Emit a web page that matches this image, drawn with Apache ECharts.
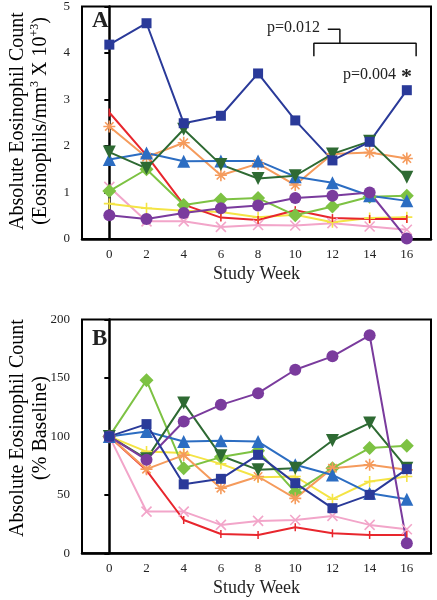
<!DOCTYPE html>
<html><head><meta charset="utf-8">
<script src="https://cdn.jsdelivr.net/npm/echarts@6/dist/echarts.min.js"></script>
<style>html,body{margin:0;padding:0;background:#fff}#c{width:437px;height:600px}</style>
</head><body><div id="c"></div>
<script>
const weeks = [0, 2, 4, 6, 8, 10, 12, 14, 16];
const weekTicks = [0, 2, 4, 6, 8, 10, 12, 14, 16];

// Panel A: absolute counts (x10^3 / mm^3)
const absBlueSquare  = [4.18, 4.64, 2.49, 2.65, 3.56, 2.55, 1.69, 2.09, 3.20];
const absRed         = [2.72, 1.80, 0.74, 0.46, 0.41, 0.62, 0.45, 0.43, 0.43];
const absOrange      = [2.42, 1.76, 2.07, 1.37, 1.62, 1.16, 1.83, 1.86, 1.73];
const absDarkGreen   = [1.87, 1.52, 2.36, 1.60, 1.30, 1.36, 1.83, 2.10, 1.33];
const absBlueTri     = [1.71, 1.85, 1.67, 1.68, 1.68, 1.34, 1.21, 0.93, 0.82];
const absLightGreen  = [1.03, 1.50, 0.73, 0.85, 0.88, 0.51, 0.70, 0.91, 0.93];
const absYellow      = [0.76, 0.66, 0.61, 0.58, 0.47, 0.52, 0.36, 0.45, 0.47];
const absPurple      = [0.51, 0.43, 0.56, 0.66, 0.72, 0.88, 0.93, 1.00, 0.01];
const absPink        = [1.12, 0.38, 0.38, 0.26, 0.30, 0.29, 0.34, 0.27, 0.20];

// Panel B: % baseline
const pctBlueSquare  = [100, 110.5, 59, 63.7, 84.2, 60, 38.6, 50, 72];
const pctRed         = [100, 71, 28.5, 16.5, 15.7, 22.3, 17.1, 15.7, 15.7];
const pctOrange      = [100, 72, 84, 55.7, 65.7, 47, 72.8, 75.7, 71.4];
const pctDarkGreen   = [100, 80.8, 128.5, 83.4, 71.4, 72.8, 96.5, 111.4, 72.8];
const pctBlueTri     = [100, 104.2, 95.6, 96.2, 95.6, 75.7, 67, 51.4, 46.3];
const pctLightGreen  = [100, 148, 72.8, 82.3, 87.7, 52.3, 72.8, 90, 92];
const pctYellow      = [100, 87, 85.7, 76.5, 65, 65.7, 46.3, 61.4, 65.7];
const pctPurple      = [100, 80, 112.8, 127, 137, 157, 168.5, 186.5, 8.6];
const pctPink        = [100, 35.7, 35.7, 24.3, 27.7, 28.5, 32, 24.3, 20.6];

// Significance bracket anchors (data coords, panel A)
const bracketMain = [[11, 3.93], [11, 4.21], [16.5, 4.21], [16.5, 3.93]];
const bracketStem = [[12.4, 4.21], [12.4, 4.51], [11.75, 4.51]];

const SERIF = '"Liberation Serif", "DejaVu Serif", serif';
const PLUS = 'path://M5,0L5,10M0,5L10,5';
const CROSS = 'path://M0,0L10,10M10,0L0,10';
const STAR = 'path://M5,0L5,10M0,5L10,5M1.5,1.5L8.5,8.5M8.5,1.5L1.5,8.5';

const styles = [
  {key: 'Pink',       color: '#F2A5C9', symbol: CROSS, size: 10, stroke: true},
  {key: 'Yellow',     color: '#F4E445', symbol: PLUS, size: 11, stroke: true},
  {key: 'Red',        color: '#E8262D', symbol: 'rect', size: [1.5, 8]},
  {key: 'LightGreen', color: '#7DC243', symbol: 'diamond', size: 14},
  {key: 'Orange',     color: '#F59B5C', symbol: STAR, size: 12, stroke: true},
  {key: 'BlueTri',    color: '#2C6DC2', symbol: 'triangle', size: 13},
  {key: 'DarkGreen',  color: '#2E6A33', symbol: 'triangle', size: 13, rotate: 180},
  {key: 'Purple',     color: '#7A3B9D', symbol: 'circle', size: 12},
  {key: 'BlueSquare', color: '#2A3A99', symbol: 'rect', size: 10}
];
const dataA = {BlueSquare: absBlueSquare, Red: absRed, Orange: absOrange, DarkGreen: absDarkGreen,
  BlueTri: absBlueTri, LightGreen: absLightGreen, Yellow: absYellow, Purple: absPurple, Pink: absPink};
const dataB = {BlueSquare: pctBlueSquare, Red: pctRed, Orange: pctOrange, DarkGreen: pctDarkGreen,
  BlueTri: pctBlueTri, LightGreen: pctLightGreen, Yellow: pctYellow, Purple: pctPurple, Pink: pctPink};

function mk(st, vals, idx) {
  return {
    type: 'line', xAxisIndex: idx, yAxisIndex: idx,
    data: weeks.map((w, i) => [w, vals[i]]),
    symbol: st.symbol, symbolSize: st.size, symbolRotate: st.rotate || 0,
    showAllSymbol: true, animation: false,
    lineStyle: {color: st.color, width: 2},
    itemStyle: st.stroke ? {color: st.color, borderColor: st.color, borderWidth: 1.6} : {color: st.color, borderWidth: 0},
    emphasis: {disabled: true}, z: 3
  };
}
const series = [];
styles.forEach(st => series.push(mk(st, dataA[st.key], 0)));
styles.forEach(st => series.push(mk(st, dataB[st.key], 1)));
[bracketMain, bracketStem].forEach(b => series.push({
  type: 'line', xAxisIndex: 0, yAxisIndex: 0, data: b, symbol: 'none', animation: false,
  lineStyle: {color: '#111', width: 1.5}, z: 2, silent: true
}));

function xAx(idx) {
  return {
    type: 'value', gridIndex: idx, min: -1.47, max: 17.3,
    axisLine: {show: true, onZero: false, lineStyle: {color: '#000', width: 2.5}},
    axisTick: {show: false},
    splitLine: {show: false},
    axisLabel: {customValues: weekTicks, color: '#222', fontFamily: SERIF, fontSize: 13, margin: 9},
    name: 'Study Week', nameLocation: 'middle', nameGap: 26,
    nameTextStyle: {fontFamily: SERIF, fontSize: 18, color: '#222'}
  };
}
function yAx(idx, max, interval) {
  return {
    type: 'value', gridIndex: idx, min: 0, max: max, interval: interval,
    axisLine: {show: true, lineStyle: {color: '#000', width: 2.5}},
    axisTick: {show: true, length: 5, lineStyle: {color: '#000', width: 2}},
    splitLine: {show: false},
    axisLabel: {color: '#222', fontFamily: SERIF, fontSize: 13, margin: 12}
  };
}

const chart = echarts.init(document.getElementById('c'), null, {renderer: 'canvas'});
const richT = {
  a: {fontFamily: SERIF, fontSize: 20, color: '#222', lineHeight: 23},
  b: {fontFamily: SERIF, fontSize: 20, color: '#222', lineHeight: 23},
  s: {fontFamily: SERIF, fontSize: 12, color: '#222', lineHeight: 23, verticalAlign: 'top'}
};
chart.setOption({
  animation: false,
  grid: [
    {left: 82, right: 6, top: 5, height: 234, show: true, borderColor: '#000', borderWidth: 2},
    {left: 82, right: 6, top: 319.5, height: 233.8, show: true, borderColor: '#000', borderWidth: 2}
  ],
  xAxis: [xAx(0), xAx(1)],
  yAxis: [yAx(0, 5, 1), yAx(1, 200, 50)],
  series: series,
  graphic: [
    {type: 'text', x: 29, y: 121, rotation: Math.PI / 2, style: {
      text: '{a|Absolute Eosinophil Count}\n{b|(Eosinophils/mm}{s|3}{b| X 10}{s|+3}{b|)}',
      rich: richT, align: 'center', verticalAlign: 'middle'}},
    {type: 'text', x: 29, y: 428, rotation: Math.PI / 2, style: {
      text: '{a|Absolute Eosinophil Count}\n{b|(% Baseline)}',
      rich: richT, align: 'center', verticalAlign: 'middle'}},
    {type: 'text', x: 92, y: 10, style: {text: 'A', font: 'bold 23px ' + SERIF, fill: '#222'}},
    {type: 'text', x: 92, y: 328, style: {text: 'B', font: 'bold 23px ' + SERIF, fill: '#222'}},
    {type: 'text', x: 267, y: 20, style: {text: 'p=0.012', font: '16px ' + SERIF, fill: '#222'}},
    {type: 'text', x: 343, y: 67, style: {text: 'p=0.004', font: '16px ' + SERIF, fill: '#222'}},
    {type: 'text', x: 401, y: 66, style: {text: '*', font: 'bold 22px ' + SERIF, fill: '#222'}}
  ]
});
</script></body></html>
